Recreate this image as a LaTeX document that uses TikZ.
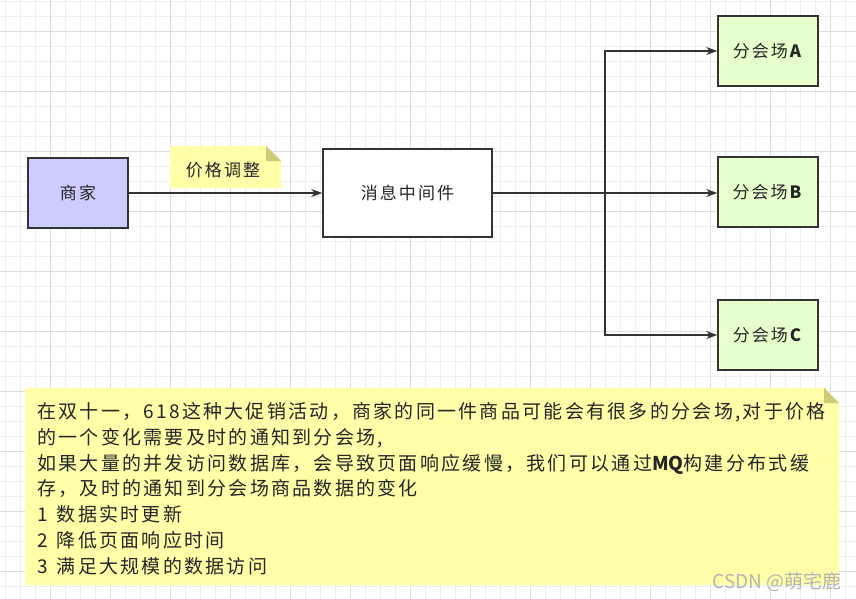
\documentclass[tikz,border=0pt]{standalone}
\usepackage{fontspec}
\usetikzlibrary{arrows.meta}
\newfontfamily\cjk[LetterSpace=12]{Noto Sans CJK SC}
\newfontfamily\cjkw{Noto Sans CJK SC}
\definecolor{gridminor}{HTML}{EEEEEE}
\definecolor{gridmajor}{HTML}{DEDEDE}
\definecolor{edgec}{HTML}{333333}
\definecolor{textc}{HTML}{262626}
\definecolor{merchant}{HTML}{CCCCFF}
\definecolor{venue}{HTML}{E6FFCC}
\definecolor{notey}{HTML}{FFFFAA}
\definecolor{notefold}{HTML}{CCCC77}
\definecolor{wmark}{HTML}{B4B4B4}
\begin{document}
\begin{tikzpicture}[x=1pt,y=-1pt,
  boxst/.style={draw=edgec,line width=1.6pt,inner sep=0pt,font=\cjk\fontsize{17}{20}\selectfont,text=textc},
  conn/.style={draw=edgec,line width=1.4pt},
  arr/.style={conn,-{Stealth[length=11pt,width=8pt]}},
  txt/.style={inner sep=0pt,anchor=base west,text=textc,font=\cjk\fontsize{19}{22}\selectfont}]
\useasboundingbox (0,0) rectangle (856,599);
\fill[white] (0,0) rectangle (856,599);
% grid
\foreach \x in {5,20,...,855} \draw[gridminor,line width=0.8pt] (\x,0) -- (\x,599);
\foreach \y in {1,16,...,599} \draw[gridminor,line width=0.8pt] (0,\y) -- (856,\y);
\foreach \x in {50,110,...,855} \draw[gridmajor,line width=0.8pt] (\x,0) -- (\x,599);
\foreach \y in {31,91,...,599} \draw[gridmajor,line width=0.8pt] (0,\y) -- (856,\y);
% nodes
\node[boxst,fill=merchant,minimum width=100pt,minimum height=70pt] (shang) at (78,193) {商家};
\node[boxst,fill=white,minimum width=169pt,minimum height=88pt] (mq) at (407.5,193) {消息中间件};
\node[boxst,fill=venue,minimum width=100pt,minimum height=70pt] (va) at (768,51) {分会场\textbf{A}};
\node[boxst,fill=venue,minimum width=100pt,minimum height=70pt] (vb) at (768,192) {分会场\textbf{B}};
\node[boxst,fill=venue,minimum width=100pt,minimum height=70pt] (vc) at (768,335) {分会场\textbf{C}};
% small note
\fill[notey] (170,146) -- (266,146) -- (281,161) -- (281,188) -- (170,188) -- cycle;
\fill[notefold] (266,146) -- (281,161) -- (266,161) -- cycle;
\node[inner sep=0pt,text=textc,font=\cjk\fontsize{17}{20}\selectfont] (price) at (223,170) {价格调整};
% connectors
\coordinate (split) at (605,193);
\draw[arr] (shang.east) -- (mq.west);
\draw[conn] (mq.east) -- (split);
\draw[arr] (split) |- (va.west);
\draw[arr] (split) -- (split -| vb.west);
\draw[arr] (split) |- (vc.west);
% big note
\fill[notey] (25,388) -- (824,388) -- (839,403) -- (839,585) -- (25,585) -- cycle;
\fill[notefold] (824,388) -- (839,403) -- (824,403) -- cycle;
\node[txt] (l1) at (37,418.5) {在双十一，618这种大促销活动，商家的同一件商品可能会有很多的分会场,对于价格};
\node[txt] (l2) at (37,444.3) {的一个变化需要及时的通知到分会场,};
\node[txt] (l3) at (37,470.1) {如果大量的并发访问数据库，会导致页面响应缓慢，我们可以通过{\cjkw\bfseries MQ}构建分布式缓};
\node[txt] (l4) at (37,495.9) {存，及时的通知到分会场商品数据的变化};
\node[txt] (l5) at (37,521.7) {1\hspace{9pt}数据实时更新};
\node[txt] (l6) at (37,547.5) {2\hspace{9pt}降低页面响应时间};
\node[txt] (l7) at (37,573.3) {3\hspace{9pt}满足大规模的数据访问};
% watermark
\node[inner sep=0pt,anchor=base east,text=wmark,font=\cjkw\fontsize{19}{22}\selectfont] (wm) at (842,588) {CSDN @萌宅鹿};
\end{tikzpicture}
\end{document}
